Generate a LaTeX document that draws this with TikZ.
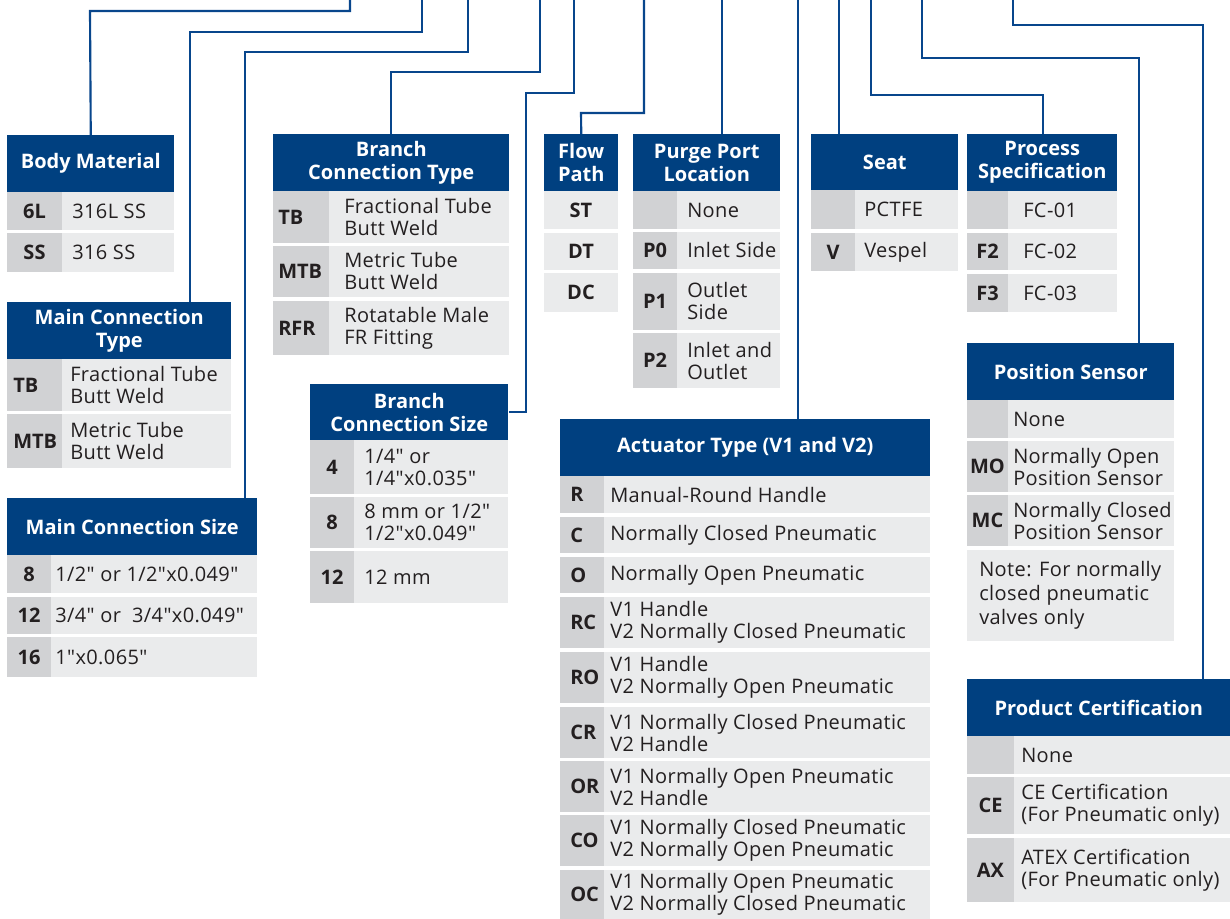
\documentclass[tikz,border=0pt]{standalone}
\usepackage{fontspec}
\setmainfont{Open Sans}[Ligatures=TeXOff, LetterSpace=2, BoldFeatures={LetterSpace=0}]
\definecolor{hdr}{RGB}{0,64,128}
\definecolor{lnc}{RGB}{8,70,140}
\definecolor{codef}{RGB}{209,210,212}
\definecolor{descf}{RGB}{234,235,236}
\definecolor{txt}{RGB}{35,31,32}
\tikzset{
  hdrbox/.style={fill=hdr, text=white, font=\bfseries\fontsize{15}{17.25}\selectfont, align=center, inner sep=0pt, anchor=north west},
  conn/.style={draw=lnc, line width=1.6pt},
  codetxt/.style={text=txt, font=\bfseries\fontsize{15}{16.5}\selectfont, inner sep=0pt},
  desctxt/.style={text=txt, font=\fontsize{15}{16.5}\selectfont, align=left, inner sep=0pt, anchor=west},
}
\newcommand\tabhead[6]{\node[hdrbox, minimum width={(#4-#2)*0.75pt}, minimum height={(#5-#3)*0.75pt}] (#1) at (#2,#3) {#6};}
\def\descpad{10}
\def\codepad{6}
% centered code
\newcommand\crow[8]{%
  \fill[codef] (#2,#5) rectangle (#3,#6);
  \fill[descf] (#3,#5) rectangle (#4,#6);
  \node[codetxt] (#1c) at ({(#2+#3)/2},{(#5+#6)/2}) {#7};
  \node[desctxt] (#1d) at ({#3+\descpad},{(#5+#6)/2}) {#8};}
% left code
\newcommand\lrow[8]{%
  \fill[codef] (#2,#5) rectangle (#3,#6);
  \fill[descf] (#3,#5) rectangle (#4,#6);
  \node[codetxt, anchor=west] (#1c) at ({#2+\codepad},{(#5+#6)/2}) {#7};
  \node[desctxt] (#1d) at ({#3+\descpad},{(#5+#6)/2}) {#8};}
% single column
\newcommand\frow[6]{%
  \fill[descf] (#2,#4) rectangle (#3,#5);
  \node[codetxt] (#1) at ({(#2+#3)/2},{(#4+#5)/2}) {#6};}
\begin{document}
\begin{tikzpicture}[x=0.75pt,y=-0.75pt]
\useasboundingbox (0,0) rectangle (1230,919);
\fill[white] (0,0) rectangle (1230,919);

% ---------- Body Material
\tabhead{bm}{7}{135}{174}{192}{Body Material}
\def\descpad{10}
\crow{bma}{7}{62}{174}{192}{230}{6L}{316L SS}
\crow{bmb}{7}{62}{174}{233}{272}{SS}{316 SS}

% ---------- Main Connection Type
\tabhead{mct}{7}{302}{231}{359}{Main Connection\\Type}
\def\descpad{8}\def\codepad{6}
\lrow{mcta}{7}{62}{231}{359}{411}{TB}{Fractional Tube\\Butt Weld}
\lrow{mctb}{7}{62}{231}{414}{468}{MTB}{Metric Tube\\Butt Weld}

% ---------- Main Connection Size
\tabhead{mcs}{7}{498}{257}{555}{Main Connection Size}
\def\descpad{4}
\crow{mcsa}{7}{51}{257}{555}{593}{8}{1/2" or 1/2"x0.049"}
\crow{mcsb}{7}{51}{257}{597}{634}{12}{3/4" or~ 3/4"x0.049"}
\crow{mcsc}{7}{51}{257}{637}{677}{16}{1"x0.065"}

% ---------- Branch Connection Type
\tabhead{bct}{273}{134}{509}{191}{Branch\\Connection Type}
\def\descpad{15}\def\codepad{5}
\lrow{bcta}{273}{329}{509}{191}{243}{TB}{Fractional Tube\\Butt Weld}
\lrow{bctb}{273}{329}{509}{246}{297}{MTB}{Metric Tube\\Butt Weld}
\lrow{bctc}{273}{329}{509}{301}{355}{RFR}{Rotatable Male\\FR Fitting}

% ---------- Branch Connection Size
\tabhead{bcs}{310}{384}{508}{440}{Branch\\Connection Size}
\def\descpad{10}
\crow{bcsa}{310}{354}{508}{440}{494}{4}{1/4" or\\1/4"x0.035"}
\crow{bcsb}{310}{354}{508}{497}{548}{8}{8 mm or 1/2"\\1/2"x0.049"}
\crow{bcsc}{310}{354}{508}{551}{603}{12}{12 mm}

% ---------- Flow Path
\tabhead{fp}{544}{134}{618}{191}{Flow\\Path}
\frow{fpa}{544}{618}{191}{229}{ST}
\frow{fpb}{544}{618}{233}{270}{DT}
\frow{fpc}{544}{618}{273}{312}{DC}

% ---------- Purge Port Location
\tabhead{pp}{633}{134}{780}{191}{Purge Port\\Location}
\def\descpad{10}
\crow{ppa}{633}{677}{780}{191}{229}{}{None}
\crow{ppb}{633}{677}{780}{232}{269}{P0}{Inlet Side}
\crow{ppc}{633}{677}{780}{273}{330}{P1}{Outlet\\Side}
\crow{ppd}{633}{677}{780}{333}{388}{P2}{Inlet and\\Outlet}

% ---------- Actuator Type
\tabhead{act}{560}{419}{930}{476}{Actuator Type (V1 and V2)}
\def\descpad{6}\def\codepad{10}
\lrow{acta}{560}{604}{930}{476}{513}{R}{Manual-Round Handle}
\lrow{actb}{560}{604}{930}{517}{553}{C}{Normally Closed Pneumatic}
\lrow{actc}{560}{604}{930}{557}{593}{O}{Normally Open Pneumatic}
\lrow{actd}{560}{604}{930}{597}{648}{RC}{V1 Handle\\V2 Normally Closed Pneumatic}
\lrow{acte}{560}{604}{930}{652}{703}{RO}{V1 Handle\\V2 Normally Open Pneumatic}
\lrow{actf}{560}{604}{930}{707}{758}{CR}{V1 Normally Closed Pneumatic\\V2 Handle}
\lrow{actg}{560}{604}{930}{761}{812}{OR}{V1 Normally Open Pneumatic\\V2 Handle}
\lrow{acth}{560}{604}{930}{815}{866}{CO}{V1 Normally Closed Pneumatic\\V2 Normally Open Pneumatic}
\lrow{acti}{560}{604}{930}{870}{919}{OC}{V1 Normally Open Pneumatic\\V2 Normally Closed Pneumatic}

% ---------- Seat
\tabhead{seat}{811}{134}{958}{190}{Seat}
\def\descpad{9}
\crow{seata}{811}{855}{958}{190}{229}{}{PCTFE}
\crow{seatb}{811}{855}{958}{233}{271}{V}{Vespel}

% ---------- Process Specification
\tabhead{ps}{967}{134}{1117}{191}{Process\\Specification}
\def\descpad{15}
\crow{psa}{967}{1008}{1117}{191}{229}{}{FC-01}
\crow{psb}{967}{1008}{1117}{233}{270}{F2}{FC-02}
\crow{psc}{967}{1008}{1117}{274}{312}{F3}{FC-03}

% ---------- Position Sensor
\tabhead{pos}{967}{343}{1174}{400}{Position Sensor}
\def\descpad{5}
\crow{posa}{967}{1008}{1174}{400}{438}{}{None}
\crow{posb}{967}{1008}{1174}{441}{492}{MO}{Normally Open\\Position Sensor}
\crow{posc}{967}{1008}{1174}{495}{546}{MC}{Normally Closed\\Position Sensor}
\fill[descf] (967,550) rectangle (1174,641);
\node[desctxt, font=\fontsize{15}{18}\selectfont] (posnote) at (979,595.5) {Note: For normally\\closed pneumatic\\valves only};

% ---------- Product Certification
\tabhead{pc}{967}{679}{1230}{736}{Product Certification}
\def\descpad{7}
\crow{pca}{967}{1014}{1230}{736}{774}{}{None}
\crow{pcb}{967}{1014}{1230}{777}{834}{CE}{CE Certification\\(For Pneumatic only)}
\crow{pcc}{967}{1014}{1230}{838}{902}{AX}{ATEX Certification\\(For Pneumatic only)}

% ---------- connectors
\coordinate (t1) at (350,0);
\coordinate (t2) at (422,0);
\coordinate (t3) at (468,0);
\coordinate (t4) at (540,0);
\coordinate (t5) at (574,0);
\coordinate (t6) at (644,0);
\coordinate (t7) at (722,0);
\coordinate (t8) at (798,0);
\coordinate (t9) at (839,0);
\coordinate (t10) at (871,0);
\coordinate (t11) at (922,0);
\coordinate (t12) at (1013,0);

\draw[conn] (t1) |- (90,11) -- (bm.north);
\draw[conn] (t2) |- (190,32) -- (190,32 |- mct.north);
\draw[conn] (t3) |- (245,52) -- (245,52 |- mcs.north);
\draw[conn] (t4) |- (391,72) -- (391,72 |- bct.north);
\draw[conn] (t5) |- (526,93) |- (bcs.east);
\draw[conn] (t6) |- (581,113) -- (fp.north);
\draw[conn] (t7) -- (t7 |- pp.north);
\draw[conn] (t8) -- (t8 |- act.north);
\draw[conn] (t9) -- (t9 |- seat.north);
\draw[conn] (t10) |- (1043,95) -- (1043,95 |- ps.north);
\draw[conn] (t11) |- (1139,58) -- (1139,58 |- pos.north);
\draw[conn] (t12) |- (1203,25) -- (1203,25 |- pc.north);
\end{tikzpicture}
\end{document}
